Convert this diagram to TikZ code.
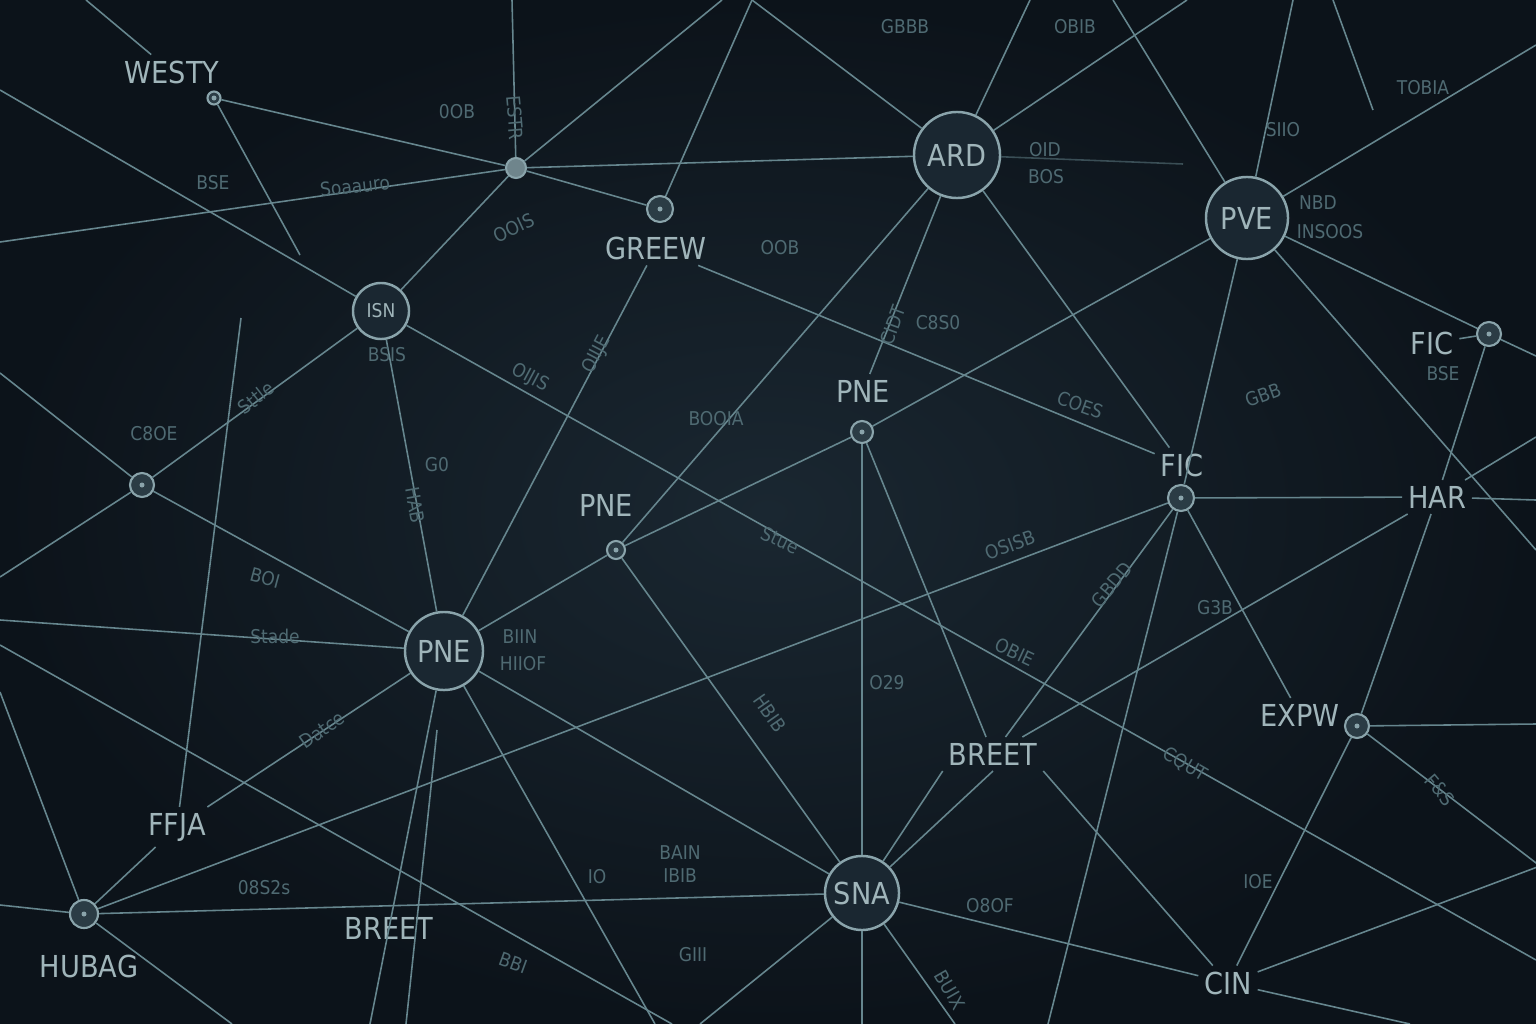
\documentclass[tikz,border=0pt]{standalone}
\usepackage{fontspec}
\setmainfont{DejaVu Sans Condensed}
\usetikzlibrary{positioning}
\definecolor{bgin}{HTML}{1A2731}
\definecolor{bgout}{HTML}{0C131A}
\definecolor{wirec}{HTML}{66868E}
\definecolor{ringc}{HTML}{8AA4AB}
\definecolor{spotc}{HTML}{2B3C45}
\definecolor{hubc}{HTML}{6F858C}
\definecolor{ink}{HTML}{A0B5BA}
\definecolor{faint}{HTML}{4F6A72}

\begin{document}
\begin{tikzpicture}[x=0.01cm, y=-0.01cm,
    wire/.style={draw=wirec, line width=0.45pt},
    bigc/.style={circle, draw=ringc, line width=0.7pt, fill=bgin, text=ink, inner sep=0pt, font=\fontsize{8.6}{9}\selectfont},
    spot/.style={circle, draw=ringc, line width=0.6pt, fill=spotc, inner sep=0pt, minimum size=0.22cm,
        path picture={\fill[ringc] (path picture bounding box.center) circle (0.025cm);}},
    tag/.style={text=ink, inner sep=1.5pt, font=\fontsize{8.6}{9}\selectfont},
    scrawl/.style={text=faint, inner sep=1pt, font=\fontsize{5.4}{6}\selectfont}]

    % background
    \useasboundingbox (0,0) rectangle (1536,1024);
    \shade[inner color=bgin, outer color=bgout] (0,0) rectangle (1536,1024);

    % main nodes
    \node[spot, minimum size=0.13cm] (westy) at (214,98) {};
    \node[tag] (westyl) at (172,72) {WESTY};
    \node[circle, fill=hubc, draw=ringc, line width=0.6pt, minimum size=0.2cm, inner sep=0pt] (hub) at (516,168) {};
    \node[spot, minimum size=0.26cm] (greew) at (660,209) {};
    \node[tag] (greewl) at (656,248) {GREEW};
    \node[bigc, minimum size=0.86cm] (ard) at (957,155) {ARD};
    \node[bigc, minimum size=0.82cm] (pve) at (1247,218) {PVE};
    \node[bigc, minimum size=0.56cm, font=\fontsize{5.4}{6}\selectfont] (isn) at (381,311) {ISN};
    \node[spot, minimum size=0.24cm] (ficr) at (1489,334) {};
    \node[tag] (ficrl) at (1432,343) {FIC};
    \node[spot, minimum size=0.24cm] (cdot) at (142,485) {};
    \node[spot] (pnea) at (862,432) {};
    \node[tag] (pneal) at (863,391) {PNE};
    \node[spot, minimum size=0.18cm] (pneb) at (616,550) {};
    \node[tag] (pnebl) at (606,505) {PNE};
    \node[spot, minimum size=0.26cm] (ficm) at (1181,498) {};
    \node[tag] (ficml) at (1182,465) {FIC};
    \node[tag] (har) at (1437,497) {HAR};
    \node[bigc, minimum size=0.78cm] (pne) at (444,651) {PNE};
    \node[spot, minimum size=0.24cm] (expw) at (1357,726) {};
    \node[tag] (expwl) at (1300,715) {EXPW};
    \node[tag] (breetm) at (993,754) {BREET};
    \node[tag] (ffja) at (177,827) {FFJA};
    \node[spot, minimum size=0.28cm] (hubag) at (84,914) {};
    \node[tag] (hubagl) at (89,966) {HUBAG};
    \node[tag] (breetb) at (389,928) {BREET};
    \node[bigc, minimum size=0.74cm] (sna) at (862,893) {SNA};
    \node[tag] (cin) at (1228,983) {CIN};

    % loose ends at the border
    \coordinate (n0) at (86,0);   \coordinate (n1) at (512,0);
    \coordinate (n2) at (722,0);  \coordinate (n3) at (752,0);
    \coordinate (n4) at (1030,0); \coordinate (n5) at (1187,0);
    \coordinate (n6) at (1113,0); \coordinate (n7) at (1293,0);
    \coordinate (n8) at (1333,0); \coordinate (n8b) at (1373,110);
    \coordinate (w1) at (0,90);   \coordinate (w2) at (0,242);
    \coordinate (w3) at (0,373);  \coordinate (w4) at (0,577);
    \coordinate (w5) at (0,620);  \coordinate (w6) at (0,645);
    \coordinate (w7) at (0,692);  \coordinate (w8) at (0,905);
    \coordinate (e1) at (1536,45);  \coordinate (e2) at (1536,356);
    \coordinate (e3) at (1536,437); \coordinate (e4) at (1536,500);
    \coordinate (e5) at (1536,550); \coordinate (e6) at (1536,724);
    \coordinate (e7) at (1540,866); \coordinate (e8) at (1536,960);
    \coordinate (s1) at (232,1024); \coordinate (s2) at (370,1024);
    \coordinate (s3a) at (437,730); \coordinate (s3) at (406,1024);
    \coordinate (s4) at (655,1024); \coordinate (s5) at (672,1024);
    \coordinate (s6) at (700,1024); \coordinate (s7) at (862,1024);
    \coordinate (s8) at (955,1024); \coordinate (s9) at (1048,1024);
    \coordinate (s10) at (1410,1024);
    \coordinate (q1) at (300,255);  \coordinate (q2) at (1183,164);
    \coordinate (q3) at (241,318);

    % connectors
    \draw[wire] (westy) -- (hub);
    \draw[wire] (westy) -- (q1);
    \draw[wire] (n0) -- (westyl);
    \draw[wire] (w2) -- (hub);
    \draw[wire] (hub) -- (ard);
    \draw[wire] (hub) -- (isn);
    \draw[wire] (n1) -- (hub);
    \draw[wire] (hub) -- (n2);
    \draw[wire] (hub) -- (greew);
    \draw[wire] (n3) -- (greew);
    \draw[wire] (n3) -- (ard);
    \draw[wire] (ard) -- (n4);
    \draw[wire] (ard) -- (n5);
    \draw[wire] (ard) -- (pneb);
    \draw[wire] (ard) -- (pneal);
    \draw[wire] (ard) -- (ficml);
    \draw[wire, opacity=0.5] (ard) -- (q2);
    \draw[wire] (greewl) -- (pne);
    \draw[wire] (greewl) -- (ficml);
    \draw[wire] (n6) -- (pve);
    \draw[wire] (n7) -- (pve);
    \draw[wire] (n8) -- (n8b);
    \draw[wire] (pve) -- (e1);
    \draw[wire] (pve) -- (pnea);
    \draw[wire] (pve) -- (ficm);
    \draw[wire] (pve) -- (e5);
    \draw[wire] (pve) -- (ficr);
    \draw[wire] (ficr) -- (ficrl);
    \draw[wire] (ficr) -- (e2);
    \draw[wire] (ficr) -- (har);
    \draw[wire] (ficm) -- (har);
    \draw[wire] (har) -- (e4);
    \draw[wire] (har) -- (e3);
    \draw[wire] (har) -- (breetm);
    \draw[wire] (har) -- (expw);
    \draw[wire] (ficm) -- (hubag);
    \draw[wire] (ficm) -- (breetm);
    \draw[wire] (ficm) -- (s9);
    \draw[wire] (ficm) -- (expwl);
    \draw[wire] (w1) -- (isn);
    \draw[wire] (isn) -- (e8);
    \draw[wire] (w3) -- (cdot);
    \draw[wire] (cdot) -- (isn);
    \draw[wire] (cdot) -- (w4);
    \draw[wire] (cdot) -- (pne);
    \draw[wire] (w5) -- (pne);
    \draw[wire] (w6) -- (s5);
    \draw[wire] (isn) -- (pne);
    \draw[wire] (pne) -- (pneb);
    \draw[wire] (pne) -- (ffja);
    \draw[wire] (ffja) -- (hubag);
    \draw[wire] (q3) -- (ffja);
    \draw[wire] (pne) -- (s2);
    \draw[wire] (s3a) -- (s3);
    \draw[wire] (pne) -- (sna);
    \draw[wire] (pne) -- (s4);
    \draw[wire] (pneb) -- (sna);
    \draw[wire] (pneb) -- (pnea);
    \draw[wire] (pnea) -- (sna);
    \draw[wire] (pnea) -- (breetm);
    \draw[wire] (breetm.south west) -- (sna);
    \draw[wire] (breetm.south) -- (sna);
    \draw[wire] (breetm.south east) -- (cin);
    \draw[wire] (hubag) -- (sna);
    \draw[wire] (w7) -- (hubag);
    \draw[wire] (w8) -- (hubag);
    \draw[wire] (hubag) -- (s1);
    \draw[wire] (sna) -- (s6);
    \draw[wire] (sna) -- (s7);
    \draw[wire] (sna) -- (s8);
    \draw[wire] (sna) -- (cin);
    \draw[wire] (cin) -- (expw);
    \draw[wire] (cin) -- (e7);
    \draw[wire] (cin) -- (s10);
    \draw[wire] (expw) -- (e6);
    \draw[wire] (expw) -- (e7);

    % faint scribbles
    \node[scrawl] (sc1) at (457,112) {0OB};
    \node[scrawl, rotate=-85] (sc2) at (515,118) {ESTR};
    \node[scrawl] (sc3) at (213,183) {BSE};
    \node[scrawl, rotate=6] (sc4) at (355,186) {Soaauro};
    \node[scrawl, rotate=25] (sc5) at (514,228) {OOIS};
    \node[scrawl] (sc6) at (387,355) {BSIS};
    \node[scrawl] (sc7) at (780,248) {OOB};
    \node[scrawl] (sc8) at (1045,150) {OID};
    \node[scrawl] (sc9) at (1046,177) {BOS};
    \node[scrawl] (sc10) at (905,27) {GBBB};
    \node[scrawl] (sc11) at (1075,27) {OBIB};
    \node[scrawl] (sc12) at (1423,88) {TOBIA};
    \node[scrawl] (sc13) at (1283,130) {SIIO};
    \node[scrawl] (sc14) at (1318,203) {NBD};
    \node[scrawl] (sc15) at (1330,232) {INSOOS};
    \node[scrawl] (sc16) at (1443,374) {BSE};
    \node[scrawl, rotate=20] (sc17) at (1263,395) {GBB};
    \node[scrawl, rotate=-20] (sc18) at (1080,405) {COES};
    \node[scrawl] (sc19) at (938,323) {C8S0};
    \node[scrawl, rotate=70] (sc20) at (893,325) {CIDT};
    \node[scrawl, rotate=-28] (sc21) at (530,378) {OIJIS};
    \node[scrawl] (sc22) at (716,419) {BOOIA};
    \node[scrawl, rotate=62] (sc23) at (597,355) {OIIJE};
    \node[scrawl] (sc24) at (154,434) {C8OE};
    \node[scrawl, rotate=38] (sc25) at (256,398) {Sttle};
    \node[scrawl] (sc26) at (437,465) {G0};
    \node[scrawl, rotate=-80] (sc27) at (415,505) {HAB};
    \node[scrawl, rotate=-25] (sc28) at (780,540) {Stue};
    \node[scrawl, rotate=20] (sc29) at (1010,545) {OSISB};
    \node[scrawl, rotate=50] (sc30) at (1112,585) {GBDD};
    \node[scrawl] (sc31) at (1215,608) {G3B};
    \node[scrawl, rotate=-15] (sc32) at (265,578) {BOI};
    \node[scrawl] (sc33) at (275,636) {Stade};
    \node[scrawl] (sc34) at (520,637) {BIIN};
    \node[scrawl] (sc35) at (523,664) {HIIOF};
    \node[scrawl, rotate=-25] (sc36) at (1015,652) {OBIE};
    \node[scrawl] (sc37) at (887,683) {O29};
    \node[scrawl, rotate=-55] (sc38) at (770,713) {HBIB};
    \node[scrawl, rotate=35] (sc39) at (322,730) {Datce};
    \node[scrawl, rotate=-30] (sc40) at (1185,765) {CQUT};
    \node[scrawl, rotate=-50] (sc41) at (1440,790) {F\&S};
    \node[scrawl] (sc42) at (680,853) {BAIN};
    \node[scrawl] (sc43) at (680,876) {IBIB};
    \node[scrawl] (sc44) at (597,877) {IO};
    \node[scrawl] (sc45) at (264,888) {08S2s};
    \node[scrawl] (sc46) at (990,906) {O8OF};
    \node[scrawl] (sc47) at (1258,882) {IOE};
    \node[scrawl] (sc48) at (693,955) {GIII};
    \node[scrawl, rotate=-60] (sc49) at (950,990) {BUIX};
    \node[scrawl, rotate=-20] (sc50) at (513,963) {BBI};
\end{tikzpicture}
\end{document}
